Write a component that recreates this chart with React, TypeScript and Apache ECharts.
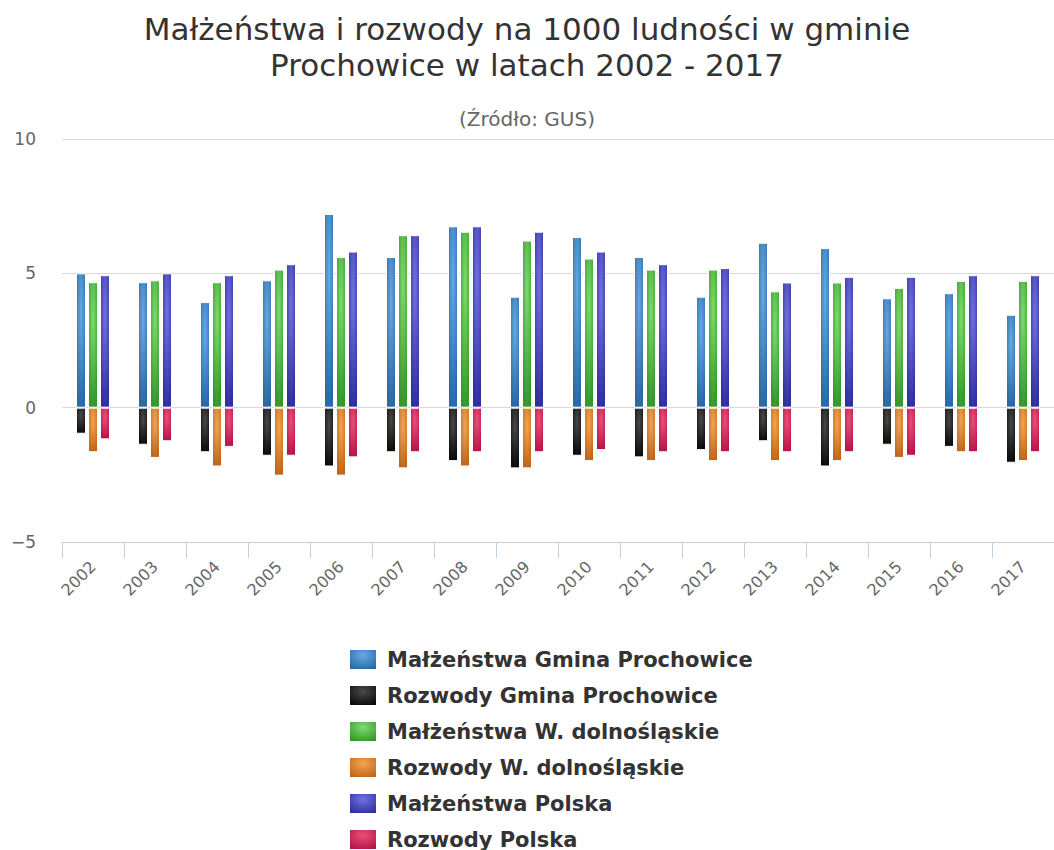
import React, { useEffect, useRef } from "react";
import * as echarts from "echarts";

const years = ["2002","2003","2004","2005","2006","2007","2008","2009","2010","2011","2012","2013","2014","2015","2016","2017"];
const malzGmina = [5.0, 4.67, 3.93, 4.74, 7.21, 5.61, 6.75, 4.13, 6.35, 5.61, 4.13, 6.14, 5.94, 4.07, 4.26, 3.46];
const rozwGmina = [-0.97, -1.38, -1.66, -1.79, -2.19, -1.66, -1.99, -2.26, -1.79, -1.85, -1.58, -1.25, -2.19, -1.38, -1.46, -2.05];
const malzWoj = [4.67, 4.74, 4.67, 5.14, 5.61, 6.42, 6.55, 6.22, 5.55, 5.14, 5.14, 4.33, 4.66, 4.46, 4.72, 4.72];
const rozwWoj = [-1.66, -1.87, -2.19, -2.53, -2.53, -2.26, -2.19, -2.26, -1.99, -1.99, -1.99, -1.99, -1.99, -1.87, -1.66, -1.99];
const malzPL = [4.93, 5.0, 4.93, 5.34, 5.81, 6.42, 6.75, 6.55, 5.81, 5.34, 5.2, 4.66, 4.87, 4.87, 4.93, 4.93];
const rozwPL = [-1.18, -1.25, -1.46, -1.79, -1.85, -1.66, -1.66, -1.66, -1.58, -1.66, -1.66, -1.66, -1.66, -1.79, -1.66, -1.66];

const seriesNames = [
  "Małżeństwa Gmina Prochowice",
  "Rozwody Gmina Prochowice",
  "Małżeństwa W. dolnośląskie",
  "Rozwody W. dolnośląskie",
  "Małżeństwa Polska",
  "Rozwody Polska",
];
const stacks = ["gmina", "gmina", "woj", "woj", "pl", "pl"];
const lightColors = ["#66aae6", "#4a4a4a", "#7fdc6e", "#f3a552", "#7272e2", "#ea5078"];
const darkColors = ["#2a68a6", "#0c0c0c", "#35972c", "#c0661a", "#3030a0", "#b8144a"];

export default function App() {
  const ref = useRef<HTMLDivElement>(null);
  useEffect(() => {
    if (!ref.current) return;
    const chart = echarts.init(ref.current, undefined, { renderer: "svg" });
    const dataSets = [malzGmina, rozwGmina, malzWoj, rozwWoj, malzPL, rozwPL];
    const series = dataSets.map((d, i) => ({
      name: seriesNames[i],
      type: "bar",
      stack: stacks[i],
      data: d,
      barWidth: 10,
      barGap: "20%",
      itemStyle: {
        color: {
          type: "radial",
          x: 0.5,
          y: 0.3,
          r: 0.7,
          colorStops: [
            { offset: 0, color: lightColors[i] },
            { offset: 1, color: darkColors[i] },
          ],
        },
        borderColor: "#ffffff",
        borderWidth: 1,
      },
    }));
    chart.setOption({
      animation: false,
      backgroundColor: "#ffffff",
      title: [
        {
          text: "Małżeństwa i rozwody na 1000 ludności w gminie\nProchowice w latach 2002 - 2017",
          left: "center",
          top: 6,
          textStyle: {
            fontFamily: "DejaVu Sans",
            fontSize: 31,
            fontWeight: "normal",
            color: "#333333",
            lineHeight: 36,
          },
        },
        {
          text: "(Źródło: GUS)",
          left: "center",
          top: 104,
          textStyle: {
            fontFamily: "DejaVu Sans",
            fontSize: 20,
            fontWeight: "normal",
            color: "#666666",
          },
        },
      ],
      legend: {
        orient: "vertical",
        left: 343,
        top: 643,
        height: 260,
        itemWidth: 28,
        itemHeight: 21,
        itemGap: 13,
        icon: "rect",
        data: seriesNames,
        textStyle: {
          fontFamily: "DejaVu Sans",
          fontSize: 21,
          fontWeight: "bold",
          color: "#333333",
          padding: [0, 0, 0, 5],
        },
      },
      grid: {
        left: 62,
        right: -6,
        top: 139,
        bottom: 308,
        containLabel: false,
      },
      xAxis: {
        type: "category",
        data: years,
        boundaryGap: true,
        axisLine: { show: true, onZero: false, lineStyle: { color: "#C0D0E0", width: 1 } },
        axisTick: { show: true, length: 16, lineStyle: { color: "#C0D0E0" } },
        axisLabel: {
          rotate: 45,
          margin: 22,
          fontFamily: "DejaVu Sans",
          fontSize: 16,
          color: "#666666",
        },
        splitLine: { show: false },
      },
      yAxis: {
        type: "value",
        min: -5,
        max: 10,
        interval: 5,
        axisLine: { show: false },
        axisTick: { show: false },
        axisLabel: {
          margin: 26,
          fontFamily: "DejaVu Sans",
          fontSize: 17,
          color: "#666666",
          formatter: (v: number) => String(v).replace("-", "\u2212"),
        },
        splitLine: { lineStyle: { color: "#D8D8D8", width: 1 } },
      },
      series,
    });
    return () => chart.dispose();
  }, []);
  return (
    <div
      ref={ref}
      style={{ position: "fixed", left: 0, top: 0, width: 1054, height: 850 }}
    />
  );
}
